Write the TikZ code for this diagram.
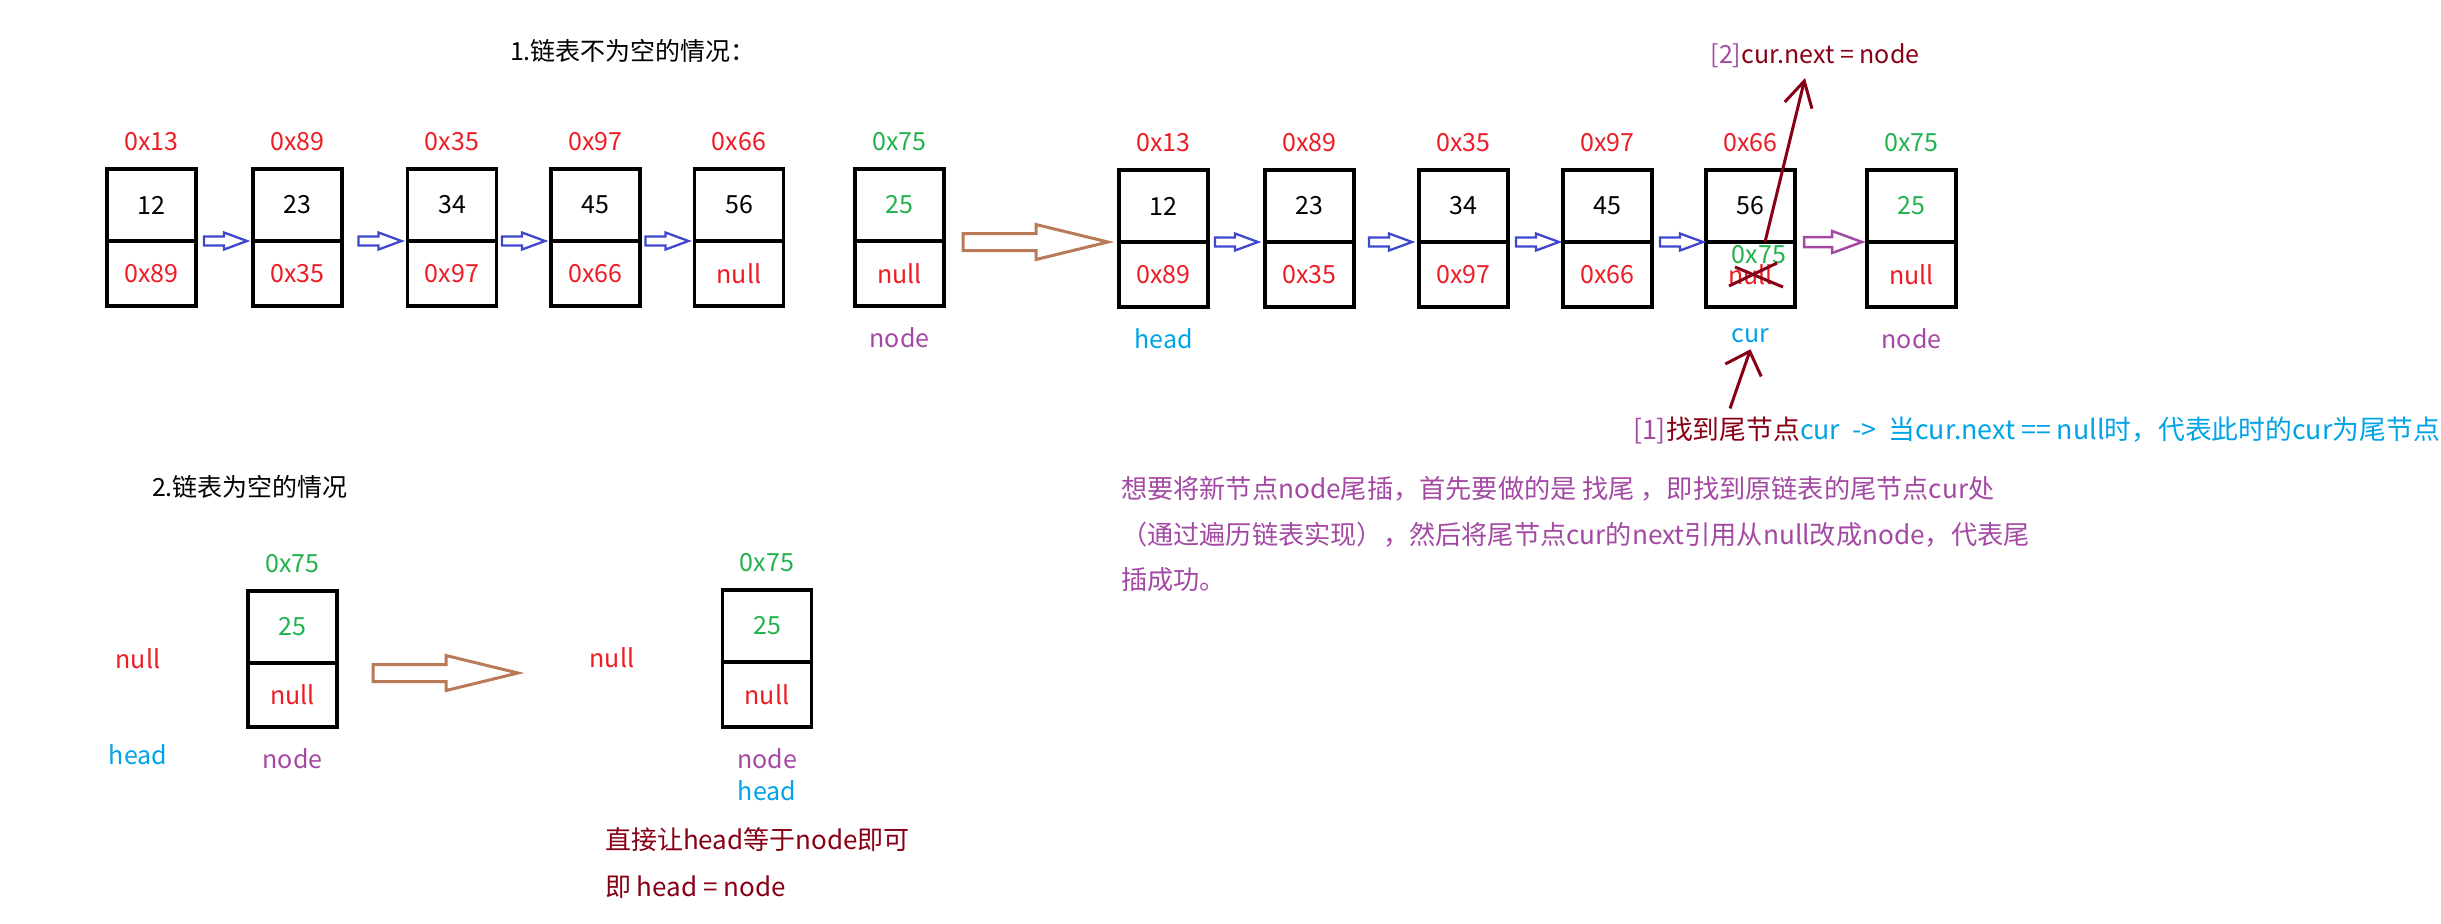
\documentclass[tikz,border=0pt]{standalone}
\usepackage{fontspec}
\setmainfont{Noto Sans CJK SC}
\usepackage{xcolor}
\usetikzlibrary{arrows.meta,calc,positioning}

\definecolor{pred}{HTML}{ED1C24}
\definecolor{pgreen}{HTML}{22B14C}
\definecolor{pblue}{HTML}{3F48CC}
\definecolor{ppurple}{HTML}{A349A4}
\definecolor{pbrown}{HTML}{B97A57}
\definecolor{psky}{HTML}{00A2E8}
\definecolor{pdark}{HTML}{880015}

\tikzset{
	every node/.style={font=\fontsize{12.5}{15}\selectfont,inner sep=0pt,outer sep=0pt},
	valcell/.style={draw,line width=1.75pt,minimum width=44.5pt,minimum height=36pt},
	ptrcell/.style={draw,line width=1.75pt,minimum width=44.5pt,minimum height=32.5pt,text=pred},
	longtext/.style={anchor=west,font=\fontsize{13.4}{16}\selectfont},
	notetext/.style={anchor=west,text=ppurple,font=\fontsize{13.1}{16}\selectfont},
	pics/bluearr/.style={code={\draw[pblue,line width=1.15pt,x=1pt,y=1pt] (0,0) -- (-11.5,4.25) -- (-11.5,2.25) -- (-21.5,2.25) -- (-21.5,-2.25) -- (-11.5,-2.25) -- (-11.5,-4.25) -- cycle;}},
	pics/purplearr/.style={code={\draw[ppurple,line width=1.25pt,x=1pt,y=1pt] (0,0) -- (-15,5.5) -- (-15,2.5) -- (-29,2.5) -- (-29,-2.5) -- (-15,-2.5) -- (-15,-5.5) -- cycle;}},
	pics/brownarr/.style={code={\draw[pbrown,line width=1.5pt,x=1pt,y=1pt] (0,0) -- (-36,8.75) -- (-36,4.25) -- (-72.5,4.25) -- (-72.5,-4.25) -- (-36,-4.25) -- (-36,-8.75) -- cycle;}},
	pen/.style={draw=pdark,line width=1.5pt,-{Straight Barb[length=12.5pt,width=14pt]}}
}

\begin{document}
\begin{tikzpicture}[x=0.5pt,y=-0.5pt]
		\useasboundingbox (0,0) rectangle (2441,923);
		\node (title1) at (633,51) {1.链表不为空的情况：};
		% list before
		\node[valcell] (o1) at (151.5,205) {12};
		\node[ptrcell,below=0pt of o1] (o1x) {0x89};
		\node[valcell] (o2) at (297.5,205) {23};
		\node[ptrcell,below=0pt of o2] (o2x) {0x35};
		\node[valcell] (o3) at (452,205) {34};
		\node[ptrcell,below=0pt of o3] (o3x) {0x97};
		\node[valcell] (o4) at (595.5,205) {45};
		\node[ptrcell,below=0pt of o4] (o4x) {0x66};
		\node[valcell] (o5) at (739,205) {56};
		\node[ptrcell,below=0pt of o5] (o5x) {null};
		\node[valcell,text=pgreen] (nd) at (899.5,205) {25};
		\node[ptrcell,below=0pt of nd] (ndx) {null};
		\node[text=pred,above=9pt of o1] {0x13};
		\node[text=pred,above=9pt of o2] {0x89};
		\node[text=pred,above=9pt of o3] {0x35};
		\node[text=pred,above=9pt of o4] {0x97};
		\node[text=pred,above=9pt of o5] {0x66};
		\node[text=pgreen,above=9pt of nd] {0x75};
		\node[text=ppurple,below=11pt of ndx] {node};
		\pic at ([xshift=-3pt]o2.south west) {bluearr};
		\pic at ([xshift=-3pt]o3.south west) {bluearr};
		\pic at ([xshift=-3pt]o4.south west) {bluearr};
		\pic at ([xshift=-3pt]o5.south west) {bluearr};
		% list after
		\node[valcell] (r1) at (1163.5,206) {12};
		\node[ptrcell,below=0pt of r1] (r1x) {0x89};
		\node[valcell] (r2) at (1309.5,206) {23};
		\node[ptrcell,below=0pt of r2] (r2x) {0x35};
		\node[valcell] (r3) at (1463.5,206) {34};
		\node[ptrcell,below=0pt of r3] (r3x) {0x97};
		\node[valcell] (r4) at (1607.5,206) {45};
		\node[ptrcell,below=0pt of r4] (r4x) {0x66};
		\node[valcell] (r5) at (1750.5,206) {56};
		\node[ptrcell,below=0pt of r5] (r5x) {null};
		\node[valcell,text=pgreen] (rnd) at (1911.5,206) {25};
		\node[ptrcell,below=0pt of rnd] (rndx) {null};
		\node[text=pred,above=9pt of r1] {0x13};
		\node[text=pred,above=9pt of r2] {0x89};
		\node[text=pred,above=9pt of r3] {0x35};
		\node[text=pred,above=9pt of r4] {0x97};
		\node[text=pred,above=9pt of r5] {0x66};
		\node[text=pgreen,above=9pt of rnd] {0x75};
		\node[text=psky,below=11pt of r1x] (head) {head};
		\node[text=psky,below=11pt of r5x] (cur) {cur};
		\node[text=ppurple,below=11pt of rndx] {node};
		\node[text=pgreen] (newptr) at ([shift={(4.25pt,9.75pt)}]r5x.center) {0x75};
		\draw[pdark,line width=1.5pt] ([shift={(-10.75pt,-5.75pt)}]r5x.center) -- ([shift={(13.25pt,5.75pt)}]r5x.center);
		\draw[pdark,line width=1.5pt] ([shift={(-7.75pt,3.75pt)}]r5x.center) -- ([shift={(16.25pt,-6.25pt)}]r5x.center);
		\pic at ([xshift=-3.5pt]r2.south west) {bluearr};
		\pic at ([xshift=-3.5pt]r3.south west) {bluearr};
		\pic at ([xshift=-2pt]r4.south west) {bluearr};
		\pic at ([xshift=-1.5pt]r5.south west) {bluearr};
		\pic at ([xshift=-2.5pt]rnd.south west) {purplearr};
		\pic at ([xshift=-5.5pt]r1.south west) {brownarr};
		% steps
		\node (step2) at (1815,56) {\textcolor{ppurple}{[2]}\textcolor{pdark}{cur.next = node}};
		\node[longtext] (step1) at (1633,430) {\textcolor{ppurple}{[1]}\textcolor{pdark}{找到尾节点}\textcolor{psky}{cur\ \ ->\ \ 当cur.next == null时，代表此时的cur为尾节点}};
		\coordinate (from2) at ([xshift=7.25pt]r5.south);
		\coordinate (from1) at ([shift={(48.5pt,4pt)}]step1.north west);
		\draw[pen] (from2) -- ([shift={(-5pt,-5pt)}]step2.south);
		\draw[pen,-{Straight Barb[length=10pt,width=19pt]}] (from1) -- ([yshift=-3pt]cur.south);
		\node[notetext] (note1) at (1121,489) {想要将新节点node尾插，首先要做的是 找尾 ，即找到原链表的尾节点cur处};
		\node[notetext] (note2) at (1121,535) {（通过遍历链表实现），然后将尾节点cur的next引用从null改成node，代表尾};
		\node[notetext] (note3) at (1121,580) {插成功。};
		% empty list
		\node (title2) at (250,487) {2.链表为空的情况};
		\node[valcell,text=pgreen] (e1) at (292.5,627) {25};
		\node[ptrcell,below=0pt of e1,minimum height=32pt] (e1x) {null};
		\node[text=pgreen,above=9pt of e1] {0x75};
		\node[text=ppurple,below=11pt of e1x] {node};
		\node[text=pred] (enull) at (138,659) {null};
		\node[text=psky] (ehead) at (138,755) {head};
		\pic at (518,673) {brownarr};
		\node[valcell,text=pgreen] (f1) at (767,626) {25};
		\node[ptrcell,below=0pt of f1] (f1x) {null};
		\node[text=pgreen,above=9pt of f1] {0x75};
		\node[text=ppurple,below=11pt of f1x] (fnode) {node};
		\node[text=psky,below=5.5pt of fnode] {head};
		\node[text=pred] (fnull) at (612,658) {null};
		\node[longtext,text=pdark,font=\fontsize{13}{16}\selectfont] (say1) at (605,840) {直接让head等于node即可};
		\node[longtext,text=pdark,font=\fontsize{13}{16}\selectfont] (say2) at (605,887) {即 head = node};
\end{tikzpicture}
\end{document}
